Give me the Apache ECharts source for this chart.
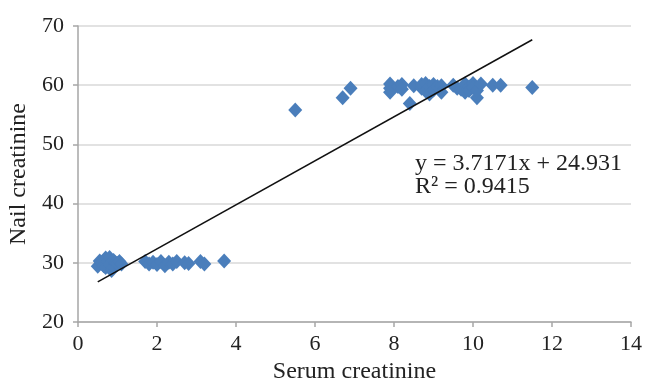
<!DOCTYPE html>
<html>
<head>
<meta charset="utf-8">
<script src="https://cdn.jsdelivr.net/npm/echarts@6/dist/echarts.min.js"></script>
<style>
  html, body { margin: 0; padding: 0; background: #fff; }
  #chart { width: 646px; height: 381px; }
</style>
</head>
<body>
<div id="chart"></div>
<script>
// serum creatinine (x) vs nail creatinine (y)
const serumX = [
  0.5, 0.55, 0.6, 0.65, 0.7, 0.7, 0.75, 0.8, 0.8, 0.85, 0.9, 0.9, 0.95, 1.0, 1.05, 1.1,
  1.7, 1.8, 1.9, 2.0, 2.1, 2.2, 2.3, 2.4, 2.5, 2.7, 2.8, 3.1, 3.2, 3.7,
  5.5, 6.7, 6.9,
  7.9, 7.9, 7.9, 8.1, 8.2, 8.2, 8.4, 8.5, 8.7, 8.7, 8.8, 8.8, 8.9, 8.9, 9.0, 9.0, 9.1,
  9.2, 9.2, 9.5, 9.6, 9.7, 9.8, 9.8, 9.9, 9.9, 10.0, 10.0, 10.1, 10.1, 10.2, 10.5, 10.7, 11.5
]
const nailY = [
  29.4, 30.3, 30.0, 29.5, 30.8, 29.2, 30.2, 30.9, 29.7, 28.7, 30.4, 29.3, 30.0, 29.9, 30.2, 29.8,
  30.2, 29.8, 30.1, 29.7, 30.2, 29.5, 30.1, 29.8, 30.2, 30.0, 29.9, 30.2, 29.8, 30.3,
  55.8, 57.9, 59.5,
  60.2, 59.5, 58.8, 59.8, 60.1, 59.3, 56.9, 59.9, 59.5, 60.1, 60.3, 59.0, 59.8, 58.5, 60.1, 59.2, 59.8,
  59.9, 58.8, 60.0, 59.5, 59.3, 60.2, 58.8, 59.7, 59.1, 60.3, 59.6, 57.9, 59.1, 60.2, 60.0, 60.0, 59.6
]
// linear trend from the reference
const trendSlope = 3.7171
const trendIntercept = 24.931
const trendRange = [0.5, 11.5]
const equationLines = ["y = 3.7171x + 24.931", "R² = 0.9415"]

const points = serumX.map((x, i) => [x, nailY[i]])
const trendLine = trendRange.map(x => [x, trendSlope * x + trendIntercept])

const chart = echarts.init(document.getElementById("chart"), null, { renderer: "canvas" })
const font = "'Liberation Serif', 'Times New Roman', serif"
const textColor = "#222"

const option = {
  animation: false,
  grid: { left: 78, right: 15, top: 26, bottom: 59, containLabel: false, outerBoundsMode: "none" },
  xAxis: {
    type: "value",
    min: 0,
    max: 14,
    interval: 2,
    name: "Serum creatinine",
    nameLocation: "middle",
    nameGap: 35,
    nameTextStyle: { fontFamily: font, fontSize: 24, color: textColor },
    axisLine: { show: true, lineStyle: { color: "#a6a6a6", width: 1.5 } },
    axisTick: { show: true, inside: false, length: 5, lineStyle: { color: "#a6a6a6", width: 1.5 } },
    axisLabel: { fontFamily: font, fontSize: 22, color: textColor, margin: 11 },
    splitLine: { show: false },
  },
  yAxis: {
    type: "value",
    min: 20,
    max: 70,
    interval: 10,
    name: "Nail creatinine",
    nameLocation: "middle",
    nameGap: 44,
    nameTextStyle: { fontFamily: font, fontSize: 24, color: textColor },
    axisLine: { show: true, lineStyle: { color: "#a6a6a6", width: 1.5 } },
    axisTick: { show: true, inside: false, length: 5, lineStyle: { color: "#a6a6a6", width: 1.5 } },
    axisLabel: { fontFamily: font, fontSize: 22, color: textColor, margin: 14 },
    splitLine: { lineStyle: { color: "#d9d9d9", width: 1.5 } },
  },
  series: [
    {
      type: "scatter",
      data: points,
      symbol: "diamond",
      symbolSize: [14, 15],
      itemStyle: { color: "#4a7ebb", opacity: 1 },
      z: 2,
    },
    {
      type: "line",
      data: trendLine,
      symbol: "none",
      lineStyle: { color: "#111", width: 1.5 },
      z: 3,
    },
  ],
  graphic: [
    {
      type: "text",
      left: 415,
      top: 152,
      style: { text: equationLines[0], font: "24px " + font, fill: textColor },
    },
    {
      type: "text",
      left: 415,
      top: 175,
      style: { text: equationLines[1], font: "24px " + font, fill: textColor },
    },
  ],
}

chart.setOption(option)
</script>
</body>
</html>
